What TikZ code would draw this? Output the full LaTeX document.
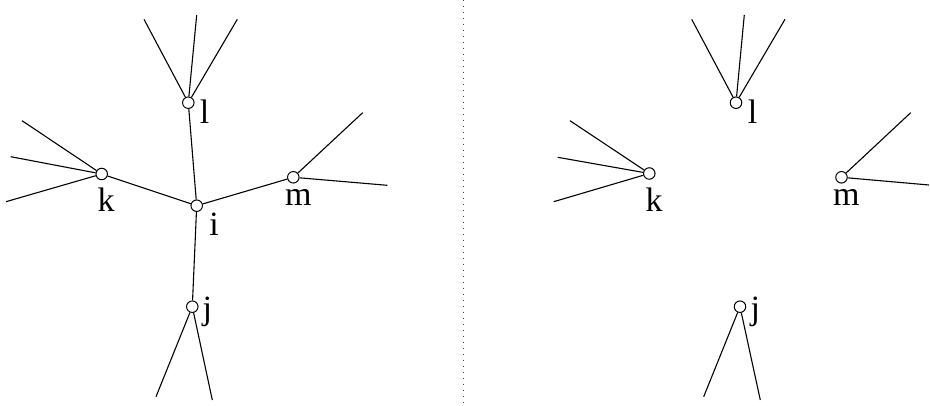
\documentclass[tikz,border=0pt]{standalone}
\usepackage{fontspec}
\setmainfont{Liberation Serif}
\begin{document}
\begin{tikzpicture}[x=1pt,y=-1pt,
  vtx/.style={circle,draw,fill=white,minimum size=11.5pt,inner sep=0pt,line width=1pt},
  lbl/.style={inner sep=0pt,font=\fontsize{34}{36}\selectfont},
  edge/.style={line width=1.1pt}]
\useasboundingbox (0,0) rectangle (930,406);
\coordinate (top) at (463.5,0);
\coordinate (bot) at (463.5,406);
\draw[line width=1pt,black!75,dash pattern=on 1pt off 5pt] (top) -- (bot);
% ---------- left ----------
\begin{scope}
\node[vtx] (l) at (188.3,102.7) {};
\node[vtx] (k) at (101.7,174) {};
\node[vtx] (i) at (196.7,205.7) {};
\node[vtx] (m) at (293.3,177.3) {};
\node[vtx] (j) at (192.3,306.7) {};
\coordinate (l1) at (144,19.3);
\coordinate (l2) at (196.7,15);
\coordinate (l3) at (237.3,19.3);
\coordinate (k1) at (22,120.7);
\coordinate (k2) at (10.7,156.7);
\coordinate (k3) at (6,201.7);
\coordinate (m1) at (362.7,112.7);
\coordinate (m2) at (387.3,185.3);
\coordinate (j1) at (156,396.7);
\coordinate (j2) at (212.3,400);
\draw[edge] (l) -- (l1) (l) -- (l2) (l) -- (l3);
\draw[edge] (k) -- (k1) (k) -- (k2) (k) -- (k3);
\draw[edge] (m) -- (m1) (m) -- (m2);
\draw[edge] (j) -- (j1) (j) -- (j2);
\draw[edge] (i) -- (l) (i) -- (k) (i) -- (m) (i) -- (j);
\node[lbl] (ll) at (204.5,111.5) {l};
\node[lbl] (kl) at (106,199.5) {k};
\node[lbl] (il) at (214,224.5) {i};
\node[lbl] (ml) at (298.3,197) {m};
\node[lbl] (jl) at (207.3,311.5) {j};
\end{scope}
% ---------- right ----------
\begin{scope}
\node[vtx] (rl) at (736,102.7) {};
\node[vtx] (rk) at (649.3,173.5) {};
\node[vtx] (rm) at (841.5,177.3) {};
\node[vtx] (rj) at (740,306.7) {};
\coordinate (rl1) at (691.7,19.3);
\coordinate (rl2) at (744.3,15);
\coordinate (rl3) at (785,19.3);
\coordinate (rk1) at (570,120.7);
\coordinate (rk2) at (557.7,157.3);
\coordinate (rk3) at (553.7,201.7);
\coordinate (rm1) at (910.7,112.7);
\coordinate (rm2) at (929,185);
\coordinate (rj1) at (703.7,396.7);
\coordinate (rj2) at (760.3,400);
\draw[edge] (rl) -- (rl1) (rl) -- (rl2) (rl) -- (rl3);
\draw[edge] (rk) -- (rk1) (rk) -- (rk2) (rk) -- (rk3);
\draw[edge] (rm) -- (rm1) (rm) -- (rm2);
\draw[edge] (rj) -- (rj1) (rj) -- (rj2);
\node[lbl] (rll) at (752.5,111.5) {l};
\node[lbl] (rkl) at (654,199.5) {k};
\node[lbl] (rml) at (846.3,197) {m};
\node[lbl] (rjl) at (755.3,311.5) {j};
\end{scope}
\end{tikzpicture}
\end{document}
